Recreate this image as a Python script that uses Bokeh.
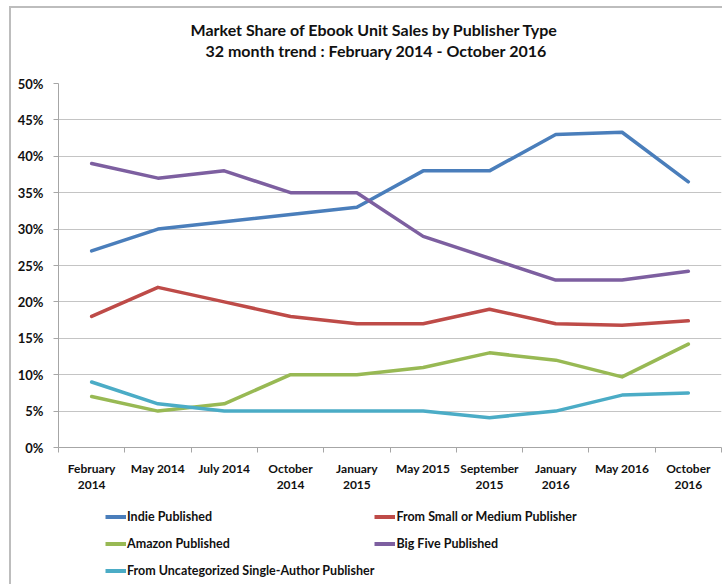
from bokeh.plotting import figure
from bokeh.layouts import column
from bokeh.models import (Range1d, FixedTicker, LinearAxis, PrintfTickFormatter,
                          Legend, LegendItem, Title)
from bokeh.embed import file_html
from bokeh.resources import INLINE

FONT = "Lato"

title_line1 = "Market Share of Ebook Unit Sales by Publisher Type"
title_line2 = "32 month trend : February 2014 - October 2016"

categories = ["February 2014", "May 2014", "July 2014", "October 2014", "January 2015",
              "May 2015", "September 2015", "January 2016", "May 2016", "October 2016"]
label_line1 = ["February", "May 2014", "July 2014", "October", "January",
               "May 2015", "September", "January", "May 2016", "October"]
label_line2 = ["2014", "", "", "2014", "2015", "", "2015", "2016", "", "2016"]

indie = [27, 30, 31, 32, 33, 38, 38, 43, 43.3, 36.5]
small_medium = [18, 22, 20, 18, 17, 17, 19, 17, 16.8, 17.4]
amazon = [7, 5, 6, 10, 10, 11, 13, 12, 9.7, 14.2]
big_five = [39, 37, 38, 35, 35, 29, 26, 23, 23, 24.2]
uncategorized = [9, 6, 5, 5, 5, 5, 4.1, 5, 7.2, 7.5]

series_names = ["Indie Published", "From Small or Medium Publisher", "Amazon Published",
                "Big Five Published", "From Uncategorized Single-Author Publisher"]
series_colors = ["#4A7EBB", "#BE4B48", "#98B954", "#7D5FA0", "#4BACC6"]
series_values = [indie, small_medium, amazon, big_five, uncategorized]
y_ticks = [0, 5, 10, 15, 20, 25, 30, 35, 40, 45, 50]

x = list(range(len(categories)))

p = figure(width=722, height=500, x_range=Range1d(-0.5, len(categories) - 0.5),
           y_range=Range1d(0, 50), output_backend="svg", toolbar_location=None,
           min_border_left=58, min_border_right=1, min_border_top=83, min_border_bottom=53)
p.outline_line_color = None
p.background_fill_color = "white"
p.border_fill_color = None

# titles (spacer first, closest to the plot)
p.add_layout(Title(text=" ", text_font=FONT, text_font_size="16px", standoff=0), "above")
p.add_layout(Title(text=title_line2, align="left", vertical_align="top",
                   text_font=FONT, text_font_size="16px", text_font_style="bold",
                   text_color="#111111", offset=147, standoff=1), "above")
p.add_layout(Title(text=title_line1, align="left", vertical_align="bottom",
                   text_font=FONT, text_font_size="16px", text_font_style="bold",
                   text_color="#111111", offset=132, standoff=4), "above")

# grid
p.xgrid.visible = False
p.ygrid.ticker = FixedTicker(ticks=y_ticks)
p.ygrid.grid_line_color = "#c4c4c4"
p.ygrid.grid_line_width = 1

# y axis
yax = p.yaxis[0]
yax.ticker = FixedTicker(ticks=y_ticks)
yax.formatter = PrintfTickFormatter(format="%d%%")
yax.axis_line_color = "#a6a6a6"
yax.major_tick_line_color = "#a6a6a6"
yax.major_tick_out = 5
yax.major_tick_in = 0
yax.minor_tick_line_color = None
yax.major_label_standoff = 10
yax.major_label_text_font = FONT
yax.major_label_text_font_size = "13px"
yax.major_label_text_font_style = "bold"
yax.major_label_text_color = "#111111"

# x axis (first line of labels)
xax = p.xaxis[0]
xax.ticker = FixedTicker(ticks=x, minor_ticks=[i - 0.5 for i in range(len(categories) + 1)])
xax.major_label_overrides = {i: label_line1[i] for i in x}
xax.axis_line_color = "#a6a6a6"
xax.major_tick_line_color = None
xax.major_tick_out = 0
xax.major_tick_in = 0
xax.minor_tick_line_color = "#a6a6a6"
xax.minor_tick_out = 5
xax.minor_tick_in = 0
xax.major_label_standoff = 8
xax.major_label_text_font = FONT
xax.major_label_text_font_size = "12px"
xax.major_label_text_font_style = "bold"
xax.major_label_text_color = "#111111"

# second line of x labels
xax2 = LinearAxis(ticker=FixedTicker(ticks=x),
                  major_label_overrides={i: label_line2[i] for i in x})
xax2.axis_line_color = None
xax2.major_tick_line_color = None
xax2.minor_tick_line_color = None
xax2.major_tick_out = 0
xax2.major_tick_in = 0
xax2.major_label_standoff = 2
xax2.major_label_text_font = FONT
xax2.major_label_text_font_size = "12px"
xax2.major_label_text_font_style = "bold"
xax2.major_label_text_color = "#111111"
p.add_layout(xax2, "below")

for vals, col in zip(series_values, series_colors):
    p.line(x, vals, line_color=col, line_width=3.5, line_join="round", line_cap="round")

# legend figure (its lines lie outside its view; they only supply the legend glyphs)
pl = figure(width=722, height=84, x_range=Range1d(100, 101), y_range=Range1d(0, 1),
            output_backend="svg", toolbar_location=None, x_axis_type=None, y_axis_type=None,
            min_border=0)
pl.outline_line_color = None
pl.background_fill_color = None
pl.border_fill_color = None
pl.xgrid.visible = False
pl.ygrid.visible = False
proxies = [pl.line(x, vals, line_color=col, line_width=4)
           for vals, col in zip(series_values, series_colors)]

legend = Legend(items=[LegendItem(label=n, renderers=[r]) for n, r in zip(series_names, proxies)],
                orientation="horizontal", ncols=2, location=(47, 0))
legend.border_line_color = None
legend.background_fill_alpha = 0
legend.margin = 0
legend.padding = 0
legend.spacing = 0
legend.label_height = 27
legend.glyph_height = 27
legend.glyph_width = 21
legend.label_standoff = 1
legend.label_text_font = FONT
legend.label_text_font_size = "12.5px"
legend.label_text_font_style = "bold"
legend.label_text_color = "#111111"
pl.add_layout(legend, "center")

# thin grey frame lines of the original chart box (top and left edges)
layout = column(p, pl, spacing=0, styles={
    "background": ("linear-gradient(#bdbdbd, #bdbdbd) 10px 6px / 100% 2px no-repeat, "
                   "linear-gradient(#bdbdbd, #bdbdbd) 9px 6px / 2px 100% no-repeat, white")})
open("out.html", "w").write(file_html(layout, INLINE))
